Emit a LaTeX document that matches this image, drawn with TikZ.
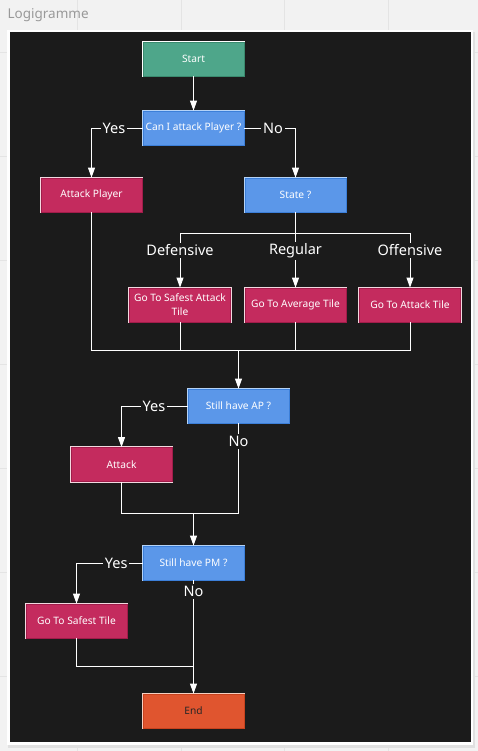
\documentclass[tikz,border=0pt]{standalone}
\usepackage{fontspec}
\setmainfont{Noto Sans}
\usepackage{tikz}
\usetikzlibrary{arrows.meta, backgrounds}
\definecolor{panel}{RGB}{27, 27, 27}
\definecolor{paper}{RGB}{242, 242, 242}
\definecolor{gridline}{RGB}{228, 228, 228}
\definecolor{startfill}{RGB}{78, 166, 138}
\definecolor{startedge}{RGB}{58, 138, 110}
\definecolor{askfill}{RGB}{91, 151, 233}
\definecolor{askedge}{RGB}{60, 127, 217}
\definecolor{askrim}{RGB}{181, 211, 247}
\definecolor{dofill}{RGB}{196, 43, 94}
\definecolor{doedge}{RGB}{161, 28, 74}
\definecolor{dorim}{RGB}{243, 217, 224}
\definecolor{endfill}{RGB}{224, 85, 47}
\definecolor{endedge}{RGB}{200, 67, 30}
\definecolor{endrim}{RGB}{247, 208, 194}

\tikzset{
  box/.style={minimum width=101pt, minimum height=34pt, inner sep=1pt,
    align=center, font=\fontsize{10.2}{14}\selectfont, text=white, line width=0.8pt},
  startbox/.style={box, fill=startfill, draw=startedge, preaction={draw=white, line width=2.6pt}},
  askbox/.style={box, fill=askfill, draw=askedge, preaction={draw=askrim, line width=2.6pt}},
  dobox/.style={box, fill=dofill, draw=doedge, preaction={draw=dorim, line width=2.6pt}},
  endbox/.style={box, fill=endfill, draw=endedge, text=black!85, preaction={draw=endrim, line width=2.6pt}},
  link/.style={draw=white, line width=0.9pt},
  arr/.style={link, -{Triangle[width=7pt, length=10pt]}},
  lbl/.style={fill=panel, text=white, inner sep=2pt, font=\fontsize{14.5}{16}\selectfont}
}

\begin{document}
\begin{tikzpicture}[x=1pt, y=-1pt]
  \useasboundingbox (0, 0) rectangle (478, 751);
  \fill[paper] (0, 0) rectangle (478, 751);
  \foreach \gx in {77, 181, 284, 388} \draw[gridline] (\gx, 0) -- (\gx, 751);
  \foreach \gy in {52, 156, 260, 364, 468, 572, 676} \draw[gridline] (0, \gy) -- (478, \gy);
  \node[anchor=west, text=black!40, font=\fontsize{13.5}{15}\selectfont] (title) at (4, 15) {Logigramme};

  % frame and panel
  \fill[black!12] (8, 32) rectangle (475, 748);
  \fill[white] (7, 30) rectangle (473, 745);
  \fill[panel] (9.5, 32.5) rectangle (470.5, 742);

  % nodes
  \node[startbox] (start) at (193.5, 59) {Start};
  \node[askbox] (canatk) at (193.5, 128) {Can I attack Player ?};
  \node[dobox] (atkplayer) at (91.5, 195) {Attack Player};
  \node[askbox] (state) at (295.5, 195) {State ?};

  \node[dobox] (safeatk) at (180, 305) {Go To Safest Attack\\Tile};
  \node[dobox] (avgtile) at (295.5, 305) {Go To Average Tile};
  \node[dobox] (atktile) at (410, 305) {Go To Attack Tile};

  \node[askbox] (stillap) at (238.5, 406) {Still have AP ?};
  \node[dobox] (attack) at (121.5, 464.5) {Attack};
  \node[askbox] (stillpm) at (193.5, 563) {Still have PM ?};
  \node[dobox] (safetile) at (76.5, 621) {Go To Safest Tile};
  \node[endbox] (end) at (193.5, 711) {End};

  \coordinate (split) at (295.5, 233);
  \coordinate (join1) at (238.5, 350);
  \coordinate (join2) at (193.5, 513);
  \coordinate (join3) at (193.5, 666);

  % connectors
  \draw[arr] (start) -- (canatk);
  \draw[arr] (canatk.west) -| node[lbl, pos=0.28] {Yes} (atkplayer);
  \draw[arr] (canatk.east) -| node[lbl, pos=0.28] {No} (state);

  \draw[link] (state.south) -- (split);
  \draw[arr] (split) -| node[lbl, pos=0.66] {Defensive} (safeatk);
  \draw[arr] (split) -- node[lbl, pos=0.33] {Regular} (avgtile);
  \draw[arr] (split) -| node[lbl, pos=0.66] {Offensive} (atktile);

  \draw[link] (atkplayer) |- (join1);
  \draw[link] (safeatk) |- (join1);
  \draw[link] (avgtile) |- (join1);
  \draw[link] (atktile) |- (join1);
  \draw[arr] (join1) -- (stillap);

  \draw[arr] (stillap.west) -| node[lbl, pos=0.255] {Yes} (attack);
  \draw[link] (stillap.south) |- node[lbl, pos=0.1] {No} (join2);
  \draw[link] (attack) |- (join2);
  \draw[arr] (join2) -- (stillpm);

  \draw[arr] (stillpm.west) -| node[lbl, pos=0.2] {Yes} (safetile);
  \draw[arr] (stillpm) -- node[lbl, pos=0.1] {No} (end);
  \draw[link] (safetile) |- (join3);

\end{tikzpicture}
\end{document}
